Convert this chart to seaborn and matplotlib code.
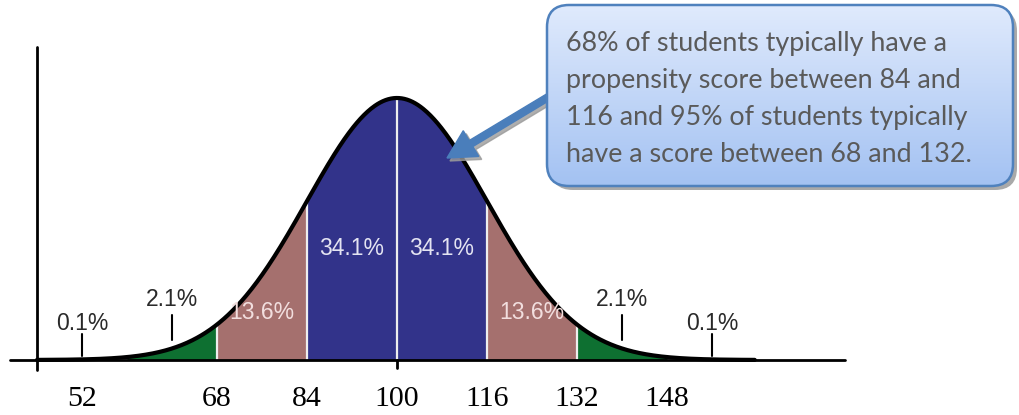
import numpy as np
import pandas as pd
import matplotlib
matplotlib.use("Agg")
import matplotlib.pyplot as plt
from matplotlib.patches import FancyBboxPatch, FancyArrow
import seaborn as sns

# normal curve parameters
mean = 100
sd = 16

# tick labels under the axis (label text, where it is drawn)
tick_labels = ['52', '68', '84', '100', '116', '132', '148']
tick_x = [44, 68, 84, 100, 116, 132, 148]

# band edges (in sd units from the mean) and their percentages
band_edges = [-3, -2, -1, 0, 1, 2, 3]
band_pct = ['2.1%', '13.6%', '34.1%', '34.1%', '13.6%', '2.1%']
band_colors = ['#0e7031', '#a5706e', '#32338a', '#32338a', '#a5706e', '#0e7031']

# small marker labels in the tails
tail_pct = ['0.1%', '2.1%', '2.1%', '0.1%']
tail_x = [44, 60, 140, 156]

callout = ("68% of students typically have a\n"
           "propensity score between 84 and\n"
           "116 and 95% of students typically\n"
           "have a score between 68 and 132.")

sns.set_style("white")
plt.rcParams['font.family'] = ['Liberation Sans', 'DejaVu Sans']

def pdf(x):
    return np.exp(-0.5 * ((np.asarray(x) - mean) / sd) ** 2)

x = np.linspace(36, 163.6, 800)
curve = pd.DataFrame({'score': x, 'density': pdf(x)})

fig = plt.figure(figsize=(10.2, 4.15), dpi=100)
ax = fig.add_axes([0, 0, 1, 1])

# coloured bands
for i in range(len(band_pct)):
    lo = mean + band_edges[i] * sd
    hi = mean + band_edges[i + 1] * sd
    xs = np.linspace(lo, hi, 200)
    ax.fill_between(xs, 0, pdf(xs), color=band_colors[i], lw=0, zorder=1)

# white dividers between bands
for e in band_edges[1:-1]:
    xe = mean + e * sd
    ax.plot([xe, xe], [0, pdf(xe)], color='#eeeeee', lw=1.6, zorder=2)

# axes lines
ax.plot([31.2, 179.6], [0, 0], color='black', lw=2, zorder=3)
ax.plot([36, 36], [1.194, -0.038], color='black', lw=2, zorder=3)
ax.plot([100, 100], [0, -0.03], color='black', lw=2, zorder=3)

sns.lineplot(data=curve, x='score', y='density', color='black', lw=3,
             ax=ax, zorder=4)
ax.set_xlim(29.42, 210.76)
ax.set_ylim(-0.21, 1.374)
ax.axis('off')

# percent labels inside the bands
for i, lab in enumerate(band_pct):
    xc = mean + (band_edges[i] + band_edges[i + 1]) / 2 * sd
    if lab == '34.1%':
        ax.text(xc, 0.427, lab, ha='center', va='center', fontsize=16.5,
                color='#e4e4f2', zorder=5)
    elif lab == '13.6%':
        ax.text(xc, 0.18, lab, ha='center', va='center', fontsize=16.5,
                color='#f2dede', zorder=5)

# tail markers
for lab, xt in zip(tail_pct, tail_x):
    if lab == '0.1%':
        y0, y1, yt = 0.015, 0.1, 0.14
    else:
        y0, y1, yt = 0.075, 0.17, 0.23
    ax.plot([xt, xt], [y0, y1], color='black', lw=1.5, zorder=5)
    ax.text(xt, yt, lab, ha='center', va='center', fontsize=16.5,
            color='#2a2a2a', zorder=5)

# tick labels
for lab, xt in zip(tick_labels, tick_x):
    ax.text(xt, -0.15, lab, ha='center', va='center', fontsize=21.5,
            family='Liberation Serif', color='black')

# callout box in pixel coordinates
ov = fig.add_axes([0, 0, 1, 1])
ov.patch.set_alpha(0)

arrow_kw = dict(width=7, head_width=30, head_length=28,
                length_includes_head=True)
ov.add_patch(FancyArrow(563, 93, 447 - 563 + 3, 158 - 93 + 3,
                        color='#9a9a9a', alpha=0.8, zorder=1, **arrow_kw))
ov.add_patch(FancyArrow(560, 90, 447 - 560, 158 - 90,
                        color='#4a7ebb', zorder=2, **arrow_kw))

bx, by, bw, bh = 547, 5, 466, 181
ov.add_patch(FancyBboxPatch((bx + 4, by + 4), bw, bh,
                            boxstyle='round,pad=0,rounding_size=22',
                            fc='#8c8c8c', ec='none', alpha=0.75, zorder=3))
grad = np.linspace(0, 1, 256).reshape(-1, 1)
top = np.array([0.88, 0.92, 0.99])
bot = np.array([0.64, 0.76, 0.95])
img = top + (bot - top) * grad[..., None]
im = ov.imshow(img, extent=(bx, bx + bw, by + bh, by), aspect='auto',
               zorder=4, interpolation='bilinear')
box = FancyBboxPatch((bx, by), bw, bh,
                     boxstyle='round,pad=0,rounding_size=22',
                     fc='none', ec='#4f81bd', lw=1.8, zorder=5)
ov.add_patch(box)
im.set_clip_path(box)
ov.set_xlim(0, 1020)
ov.set_ylim(415, 0)
ov.axis('off')

ov.text(566, 98.5, callout, ha='left', va='center', fontsize=19.4,
        family='Lato', color='#5a5a5a', linespacing=1.6, zorder=6)

fig.savefig('out.png', dpi=100)
